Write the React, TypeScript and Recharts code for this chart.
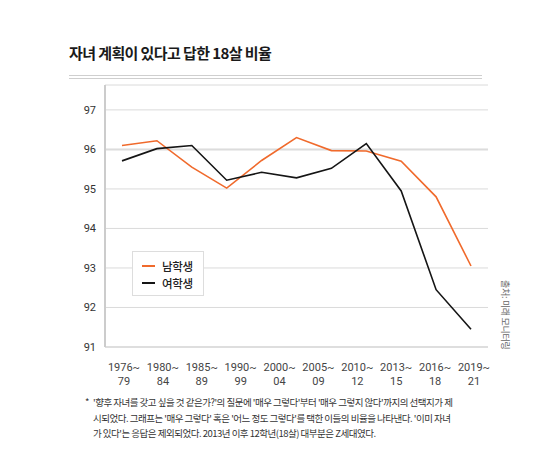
import { LineChart, Line, XAxis, YAxis, CartesianGrid, ReferenceLine } from "recharts";

// 11 survey periods plotted, 10 period labels printed on the axis (as in the source graphic)
const pointIndex = [0, 1, 2, 3, 4, 5, 6, 7, 8, 9, 10];
const boys = [96.1, 96.22, 95.55, 95.02, 95.72, 96.3, 95.97, 95.96, 95.7, 94.8, 93.05];
const girls = [95.71, 96.02, 96.1, 95.22, 95.42, 95.28, 95.52, 96.15, 94.95, 92.45, 91.45];
const periodLabels = ["1976~79", "1980~84", "1985~89", "1990~99", "2000~04", "2005~09", "2010~12", "2013~15", "2016~18", "2019~21"];
const yTicks = [91, 92, 93, 94, 95, 96, 97];

const data = pointIndex.map((i) => ({
  idx: i,
  labelNo: i < periodLabels.length ? i : null,
  boys: boys[i],
  girls: girls[i],
}));
const labelTicks = periodLabels.map((_, i) => i);

const KFONT = "'Noto Sans CJK KR', 'Noto Sans', sans-serif";
const NFONT = "Roboto, 'Noto Sans', sans-serif";
const ORANGE = "#f06a2c";
const BLACK = "#151515";

function PeriodTick(props: any) {
  const { x, y, payload } = props;
  const label = periodLabels[payload.value] || "";
  const [a, b] = label.split("~");
  return (
    <g transform={`translate(${x},${y})`}>
      <text x={0} y={16} textAnchor="middle" fontSize={11} fill="#444" fontFamily={NFONT}>{a + "~"}</text>
      <text x={0} y={30} textAnchor="middle" fontSize={11} fill="#444" fontFamily={NFONT}>{b}</text>
    </g>
  );
}

export default function App() {
  return (
    <div style={{ position: "absolute", left: 0, top: 0, width: 559, height: 472, background: "#fff", fontFamily: KFONT }}>
      <div style={{ position: "absolute", left: 69, top: 42, fontSize: 15, fontWeight: 700, color: "#1a1a1a", letterSpacing: -0.6, whiteSpace: "nowrap" }}>
        자녀 계획이 있다고 답한 18살 비율
      </div>
      <div style={{ position: "absolute", left: 69, top: 75, width: 413, height: 0, borderTop: "1px solid #cfcfcf" }} />
      <div style={{ position: "absolute", left: 69, top: 78, width: 413, height: 0, borderTop: "1px solid #cfcfcf" }} />

      <div style={{ position: "absolute", left: 0, top: 0 }}>
        <LineChart width={559} height={472} data={data} margin={{ top: 85, right: 71, bottom: 85, left: 65 }}>
          <CartesianGrid vertical={false} stroke="#dadada" xAxisId="pts" />
          <XAxis xAxisId="pts" dataKey="idx" type="number" domain={[0, 10]} hide padding={{ left: 17, right: 17 }} />
          <XAxis
            xAxisId="lab"
            dataKey="labelNo"
            type="number"
            domain={[0, 9]}
            allowDataOverflow
            ticks={labelTicks}
            interval={0}
            padding={{ left: 19, right: 14 }}
            height={40}
            axisLine={{ stroke: "#cfcfcf" }}
            tickLine={false}
            tick={<PeriodTick />}
          />
          <YAxis
            type="number"
            domain={[91, 97.63]}
            ticks={yTicks}
            interval={0}
            width={40}
            axisLine={{ stroke: "#cccccc", strokeWidth: 2 }}
            tickLine={false}
            tickMargin={3}
            tick={{ fontSize: 11, fill: "#333", fontFamily: NFONT }}
          />
          <ReferenceLine xAxisId="pts" y={96} stroke="#dcdcdc" strokeWidth={2} />
          <Line xAxisId="pts" type="linear" dataKey="boys" stroke={ORANGE} strokeWidth={1.6} dot={false} isAnimationActive={false} />
          <Line xAxisId="pts" type="linear" dataKey="girls" stroke={BLACK} strokeWidth={1.6} dot={false} isAnimationActive={false} />
        </LineChart>
      </div>

      <div style={{ position: "absolute", left: 132, top: 251, width: 72, height: 45, border: "1px solid #dddddd", background: "#fff", boxSizing: "border-box" }}>
        {[{ name: "남학생", color: ORANGE, top: 6 }, { name: "여학생", color: BLACK, top: 23 }].map((it) => (
          <div key={it.name} style={{ position: "absolute", left: 9, top: it.top, height: 16, display: "flex", alignItems: "center" }}>
            <span style={{ display: "inline-block", width: 13, height: 2.5, background: it.color }} />
            <span style={{ marginLeft: 7, fontSize: 11.5, fontWeight: 500, color: "#222", letterSpacing: -0.3 }}>{it.name}</span>
          </div>
        ))}
      </div>

      <div style={{ position: "absolute", left: 511, top: 280, transform: "rotate(90deg)", transformOrigin: "left top", fontSize: 9, color: "#666", whiteSpace: "nowrap", letterSpacing: -0.3, lineHeight: "12px" }}>
        출처: 미래 모니터링
      </div>

      <div style={{ position: "absolute", left: 85, top: 395, fontSize: 9.5, color: "#333", letterSpacing: -0.5, lineHeight: "15.5px", whiteSpace: "nowrap" }}>
        <div>
          <span style={{ display: "inline-block", width: 8 }}>*</span>'향후 자녀를 갖고 싶을 것 같은가?'의 질문에 '매우 그렇다'부터 '매우 그렇지 않다'까지의 선택지가 제
        </div>
        <div style={{ paddingLeft: 8 }}>시되었다. 그래프는 '매우 그렇다' 혹은 '어느 정도 그렇다'를 택한 이들의 비율을 나타낸다. '이미 자녀</div>
        <div style={{ paddingLeft: 8 }}>가 있다'는 응답은 제외되었다. 2013년 이후 12학년(18살) 대부분은 Z세대였다.</div>
      </div>
    </div>
  );
}
